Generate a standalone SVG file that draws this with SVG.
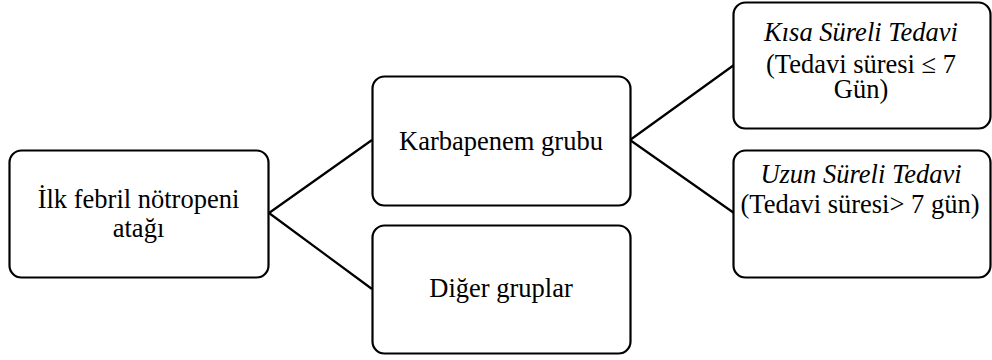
<svg xmlns="http://www.w3.org/2000/svg" width="992" height="360" viewBox="0 0 992 360">
<style>
.box{fill:#fff;stroke:#000;stroke-width:2.2}
text{font-family:"Liberation Serif",serif;font-size:26.5px;fill:#000;text-anchor:middle}
.i{font-style:italic}
.c{stroke:#000;stroke-width:2.2;fill:none}
</style>
<rect width="992" height="360" fill="#fff"/>
<g id="connectors">
<path class="c" d="M269,213 L372,140 M269,213 L372,289"/>
<path class="c" d="M630,140 L734,65 M630,140 L734,213"/>
</g>
<g id="n1">
<rect class="box" x="9.5" y="150.5" width="259" height="127" rx="12"/>
<text x="138.5" y="208">İlk febril nötropeni</text>
<text x="138.5" y="237">atağı</text>
</g>
<g id="n2">
<rect class="box" x="372.5" y="76.5" width="258" height="129" rx="12"/>
<text x="501" y="150">Karbapenem grubu</text>
</g>
<g id="n3">
<rect class="box" x="372.5" y="225.5" width="258" height="128" rx="12"/>
<text x="501" y="297">Diğer gruplar</text>
</g>
<g id="n4">
<rect class="box" x="733.5" y="2.5" width="257" height="126" rx="12"/>
<text class="i" x="861" y="41">Kısa Süreli Tedavi</text>
<text x="861" y="73">(Tedavi süresi ≤ 7</text>
<text x="861" y="98">Gün)</text>
</g>
<g id="n5">
<rect class="box" x="733.5" y="150.5" width="257" height="127" rx="12"/>
<text class="i" x="861" y="183">Uzun Süreli Tedavi</text>
<text x="860" y="213">(Tedavi süresi&gt; 7 gün)</text>
</g>
</svg>
